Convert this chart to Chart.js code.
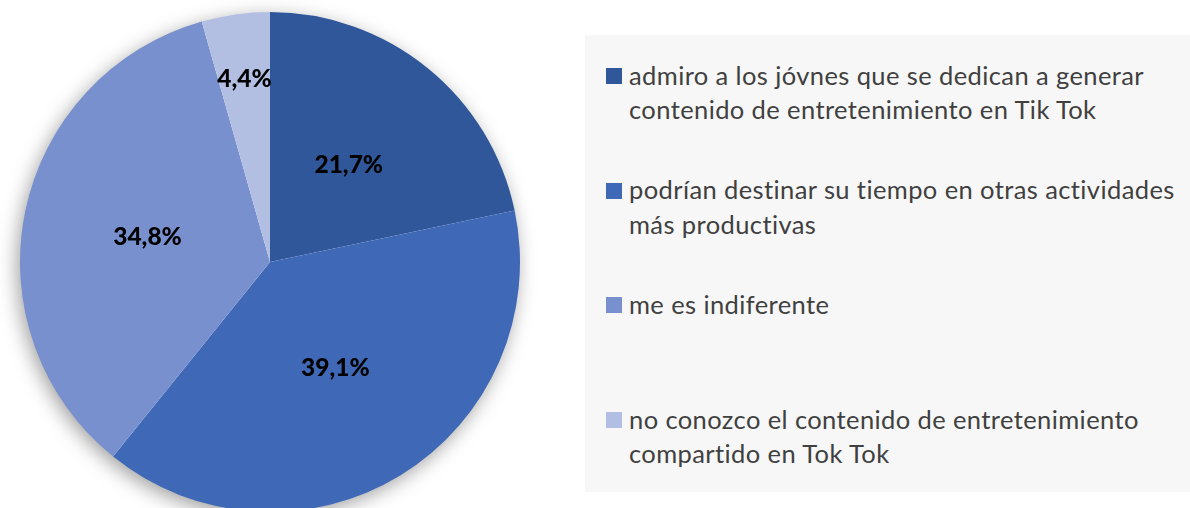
<!DOCTYPE html>
<html>
<head>
<meta charset="utf-8">
<script src="https://cdn.jsdelivr.net/npm/chart.js@4"></script>
<style>
  html, body { margin: 0; padding: 0; background: #fff; overflow: hidden; }
  #wrap { position: relative; width: 1190px; height: 508px; overflow: hidden; }
  #chart { position: absolute; left: 0; top: 0; }
  #legend {
    position: absolute; left: 585px; top: 35px; width: 605px; height: 457px;
    background: #f7f7f7; font-family: Lato, "Noto Sans", sans-serif; font-size: 25.5px;
    letter-spacing: 0.4px; color: #404040;
  }
  .item { position: absolute; left: 21px; line-height: 34.5px; }
  .box { position: absolute; left: 0; top: 10.5px; width: 16px; height: 16px; }
  .txt { margin-left: 23px; white-space: nowrap; }
</style>
</head>
<body>
<div id="wrap">
  <canvas id="chart"></canvas>
  <div id="legend"></div>
</div>
<script>
  const labels = [
    ["admiro a los jóvnes que se dedican a generar", "contenido de entretenimiento en Tik Tok"],
    ["podrían destinar su tiempo en otras actividades", "más productivas"],
    ["me es indiferente"],
    ["no conozco el contenido de entretenimiento", "compartido en Tok Tok"]
  ];
  const values = [21.7, 39.1, 34.8, 4.4];
  const valueLabels = ["21,7%", "39,1%", "34,8%", "4,4%"];
  const colors = ["#30579a", "#3f69b6", "#7990ce", "#b3bfe2"];

  // soft shadow behind the pie
  const shadowPlugin = {
    id: "pieShadow",
    beforeDatasetsDraw(chart) {
      const arc = chart.getDatasetMeta(0).data[0];
      if (!arc) return;
      const ctx = chart.ctx;
      ctx.save();
      ctx.shadowColor = "rgba(0,0,0,0.4)";
      ctx.shadowBlur = 20;
      ctx.shadowOffsetX = -3;
      ctx.shadowOffsetY = 5;
      ctx.fillStyle = "#ffffff";
      ctx.beginPath();
      ctx.arc(arc.x, arc.y, arc.outerRadius - 1, 0, Math.PI * 2);
      ctx.fill();
      ctx.restore();
    }
  };

  const labelPlugin = {
    id: "sliceLabels",
    afterDatasetsDraw(chart) {
      const ctx = chart.ctx;
      ctx.save();
      ctx.font = "900 24.5px Lato, 'Noto Sans', sans-serif";
      ctx.fillStyle = "#000";
      ctx.textAlign = "center";
      ctx.textBaseline = "middle";
      chart.getDatasetMeta(0).data.forEach((arc, i) => {
        const mid = (arc.startAngle + arc.endAngle) / 2;
        const f = values[i] < 5 ? 0.74 : 0.5;
        const r = arc.outerRadius * f;
        ctx.fillText(valueLabels[i], arc.x + Math.cos(mid) * r, arc.y + Math.sin(mid) * r);
      });
      ctx.restore();
    }
  };

  const canvas = document.getElementById("chart");
  canvas.width = 1190;
  canvas.height = 530;
  canvas.style.width = "1190px";
  canvas.style.height = "530px";

  new Chart(canvas.getContext("2d"), {
    type: "pie",
    data: {
      labels,
      datasets: [{
        data: values,
        backgroundColor: colors,
        borderWidth: 0
      }]
    },
    options: {
      responsive: false,
      animation: false,
      layout: { padding: { left: 20, right: 670, top: 12, bottom: 18 } },
      plugins: {
        legend: { display: false },
        tooltip: { enabled: false }
      }
    },
    plugins: [shadowPlugin, labelPlugin]
  });

  // legend built from the same arrays
  const legend = document.getElementById("legend");
  labels.forEach((lines, i) => {
    const item = document.createElement("div");
    item.className = "item";
    item.style.top = (22.5 + i * 114.7) + "px";
    item.innerHTML = '<div class="box" style="background:' + colors[i] + '"></div>' +
      '<div class="txt">' + lines.join("<br>") + '</div>';
    legend.appendChild(item);
  });
</script>
</body>
</html>
